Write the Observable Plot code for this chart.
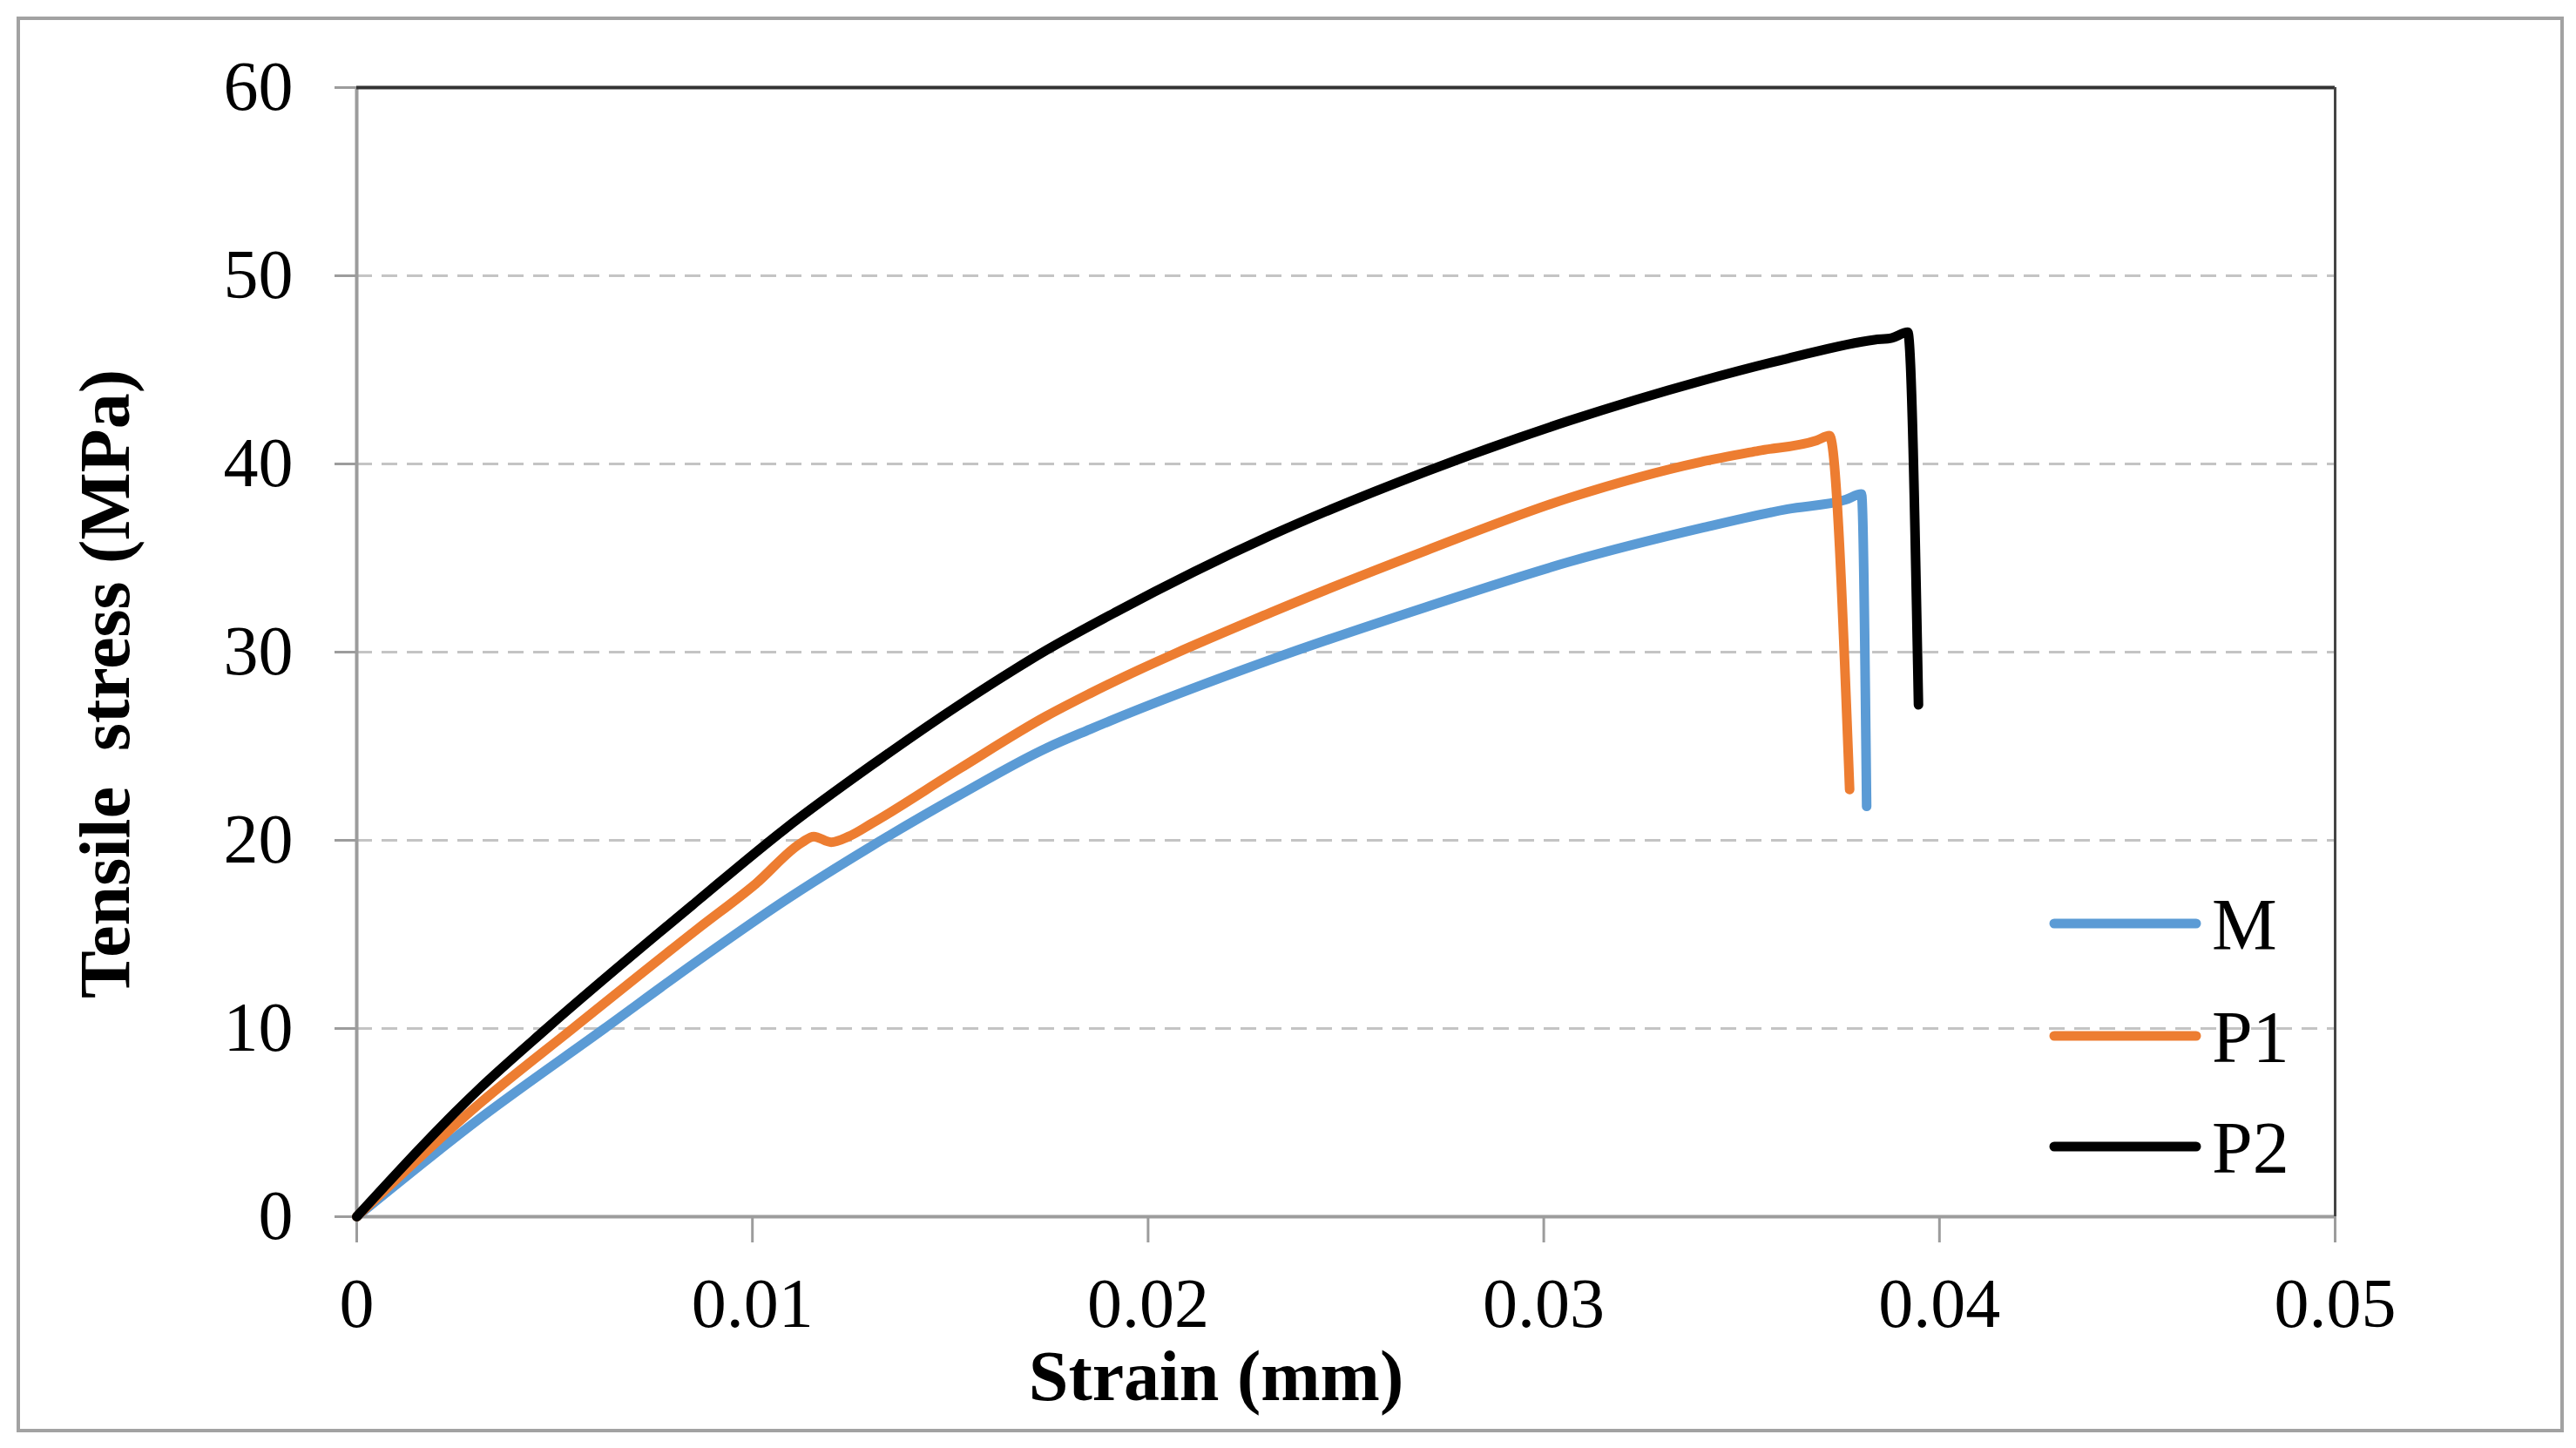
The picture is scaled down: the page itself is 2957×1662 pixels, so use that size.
<!DOCTYPE html>
<html>
<head>
<meta charset="utf-8">
<script src="https://cdn.jsdelivr.net/npm/d3@7"></script>
<script src="https://cdn.jsdelivr.net/npm/@observablehq/plot@0.6"></script>
<style>
  html, body { margin: 0; padding: 0; background: #fff; overflow: hidden; }
  #chart { width: 2957px; height: 1662px; }
</style>
</head>
<body>
<div id="chart"></div>
<script>
// ---- Data ----
const seriesNames = ["M", "P1", "P2"];
const seriesColors = ["#5B9BD5", "#ED7D31", "#000000"];

const strainM = [0, 0.0031, 0.00626, 0.00862, 0.01082, 0.01302, 0.01523, 0.01743, 0.01853, 0.0231, 0.02703, 0.03065, 0.0340, 0.03616, 0.03763, 0.03803, 0.03816];
const stressM = [0, 5.2, 10.0, 13.6, 16.8, 19.7, 22.4, 24.9, 25.9, 29.6, 32.4, 34.8, 36.6, 37.6, 38.1, 38.4, 21.8];

const strainP1 = [0, 0.0031, 0.00546, 0.00862, 0.01009, 0.01126, 0.01155, 0.01199, 0.01243, 0.01302, 0.01523, 0.01743, 0.01853, 0.0231, 0.02703, 0.03065, 0.03396, 0.03543, 0.0369, 0.03722, 0.03773];
const stressP1 = [0, 6.0, 10.0, 15.3, 17.7, 19.9, 20.2, 19.9, 20.2, 20.9, 23.8, 26.6, 27.8, 32.1, 35.4, 38.2, 40.1, 40.7, 41.25, 41.5, 22.7];

const strainP2 = [0, 0.0031, 0.0048, 0.00862, 0.01082, 0.01302, 0.01523, 0.01743, 0.01916, 0.0231, 0.02703, 0.03065, 0.03396, 0.03616, 0.03836, 0.0388, 0.0392, 0.03947];
const stressP2 = [0, 6.8, 10.0, 16.8, 20.6, 24.0, 27.2, 30.1, 32.1, 36.2, 39.6, 42.3, 44.4, 45.6, 46.6, 46.7, 47.0, 27.2];

const xTicks = [0, 0.01, 0.02, 0.03, 0.04, 0.05];
const yTicks = [0, 10, 20, 30, 40, 50, 60];
const gridTicks = [10, 20, 30, 40, 50];

const xTitle = "Strain (mm)";
const yTitle = "Tensile  stress (MPa)";

// ---- Build table ----
const table = [];
[[strainM, stressM, "M"], [strainP1, stressP1, "P1"], [strainP2, stressP2, "P2"]].forEach(([xs, ys, name]) => {
  xs.forEach((x, i) => table.push({strain: x, stress: ys[i], series: name}));
});

const W = 2957, H = 1662;
const mL = 409, mR = 277, mT = 100, mB = 266;
const axisGray = "#9c9c9c";

const chart = Plot.plot({
  width: W,
  height: H,
  marginLeft: mL,
  marginRight: mR,
  marginTop: mT,
  marginBottom: mB,
  style: {
    fontFamily: "'Liberation Serif', 'Times New Roman', serif",
    fontSize: "80px",
    color: "#000",
    background: "#fff",
    overflow: "visible"
  },
  x: {domain: [0, 0.05]},
  y: {domain: [0, 60]},
  color: {domain: seriesNames, range: seriesColors},
  marks: [
    Plot.ruleY(gridTicks, {stroke: "#c4c4c4", strokeWidth: 3, strokeDasharray: "18,11"}),
    Plot.axisY({ticks: yTicks, tickSize: 25, tickPadding: 48, stroke: axisGray, strokeWidth: 3,
                fill: "#000", fontSize: 80, label: null, tickFormat: d => String(d)}),
    Plot.axisX({ticks: xTicks, tickSize: 30, tickPadding: 40, stroke: axisGray, strokeWidth: 3,
                fill: "#000", fontSize: 80, label: null, tickFormat: d => String(d)}),
    Plot.ruleX([0], {stroke: axisGray, strokeWidth: 4}),
    Plot.ruleY([0], {stroke: axisGray, strokeWidth: 4}),
    Plot.ruleY([60], {stroke: "#333", strokeWidth: 4}),
    Plot.ruleX([0.05], {stroke: "#444", strokeWidth: 3}),
    Plot.line(table, {x: "strain", y: "stress", z: "series", stroke: "series", curve: "monotone-x",
                      strokeWidth: 11, strokeLinejoin: "round", strokeLinecap: "round"})
  ]
});

document.getElementById("chart").appendChild(chart);

// ---- Decorations: outer border, axis titles, legend ----
const svg = d3.select(chart);
svg.append("rect")
  .attr("x", 21).attr("y", 21).attr("width", 2920).attr("height", 1621)
  .attr("fill", "none").attr("stroke", "#a2a2a2").attr("stroke-width", 4);

svg.append("text")
  .attr("x", 1396).attr("y", 1607)
  .attr("text-anchor", "middle")
  .attr("font-weight", "bold")
  .attr("font-size", 82)
  .attr("fill", "#000")
  .text(xTitle);

svg.append("text")
  .attr("transform", "translate(148,785) rotate(-90)")
  .attr("text-anchor", "middle")
  .attr("font-weight", "bold")
  .attr("font-size", 82)
  .attr("fill", "#000")
  .style("white-space", "pre")
  .text(yTitle);

const legendY = [1060, 1189, 1316];
const lg = svg.append("g");
seriesNames.forEach((name, i) => {
  lg.append("line")
    .attr("x1", 2358).attr("x2", 2521)
    .attr("y1", legendY[i]).attr("y2", legendY[i])
    .attr("stroke", seriesColors[i])
    .attr("stroke-width", 11)
    .attr("stroke-linecap", "round");
  lg.append("text")
    .attr("x", 2539).attr("y", legendY[i] + 30)
    .attr("text-anchor", "start")
    .attr("font-size", 84)
    .attr("fill", "#000")
    .text(name);
});
</script>
</body>
</html>
